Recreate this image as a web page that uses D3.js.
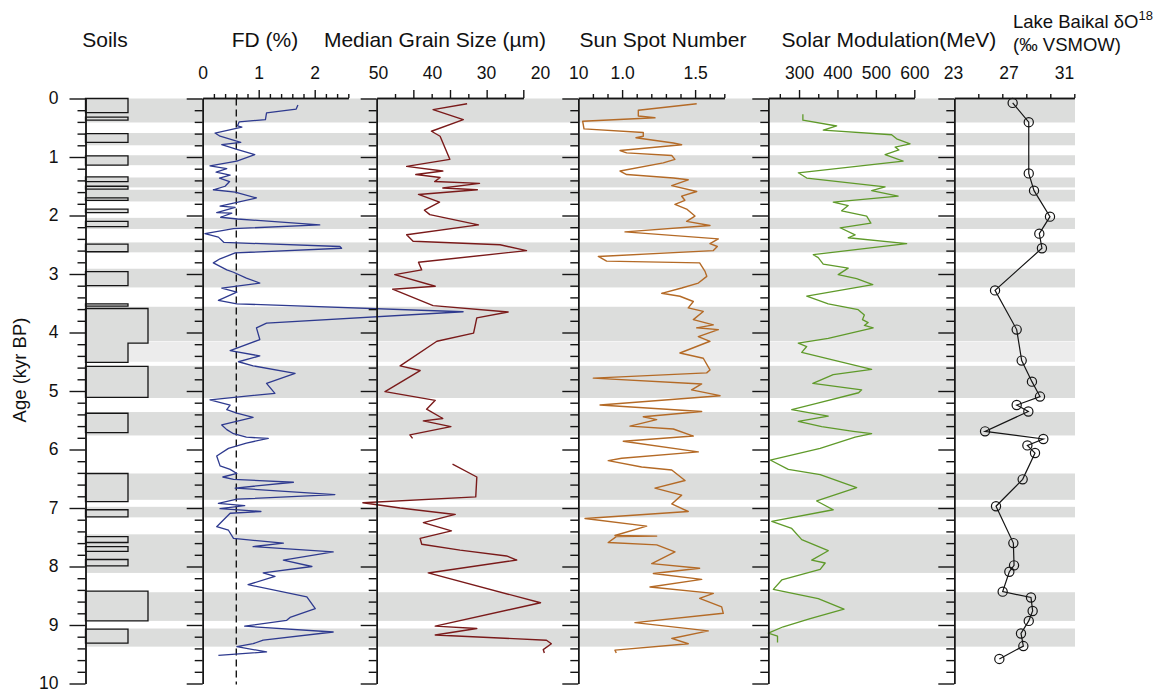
<!DOCTYPE html>
<html>
<head>
<meta charset="utf-8">
<script src="https://cdn.jsdelivr.net/npm/d3@7"></script>
<style>
  body { margin: 0; background: #fff; }
  svg text { font-family: "Liberation Sans", Arial, Helvetica, sans-serif; fill: #111; }
</style>
</head>
<body>
<svg id="chart" width="1155" height="690"></svg>
<script>
// ---------------- data ----------------
// grey marker horizons (kyr BP)
const bandTop  = [0, 0.59, 0.97, 1.35, 1.56, 2.04, 2.46, 2.91, 3.56, 4.57, 5.36, 6.41, 6.98, 7.45, 8.44, 9.06];
const bandBase = [0.41, 0.80, 1.14, 1.52, 1.76, 2.23, 2.63, 3.23, 4.15, 5.12, 5.76, 6.86, 7.16, 8.11, 8.93, 9.37];
const paleBandTop  = [4.16];
const paleBandBase = [4.50];

// palaeosol units
const soilTop  = [0, 0.32, 0.60, 0.98, 1.34, 1.50, 1.70, 1.89, 2.10, 2.49, 2.96, 3.51, 3.59, 4.18, 4.58, 5.38, 6.41, 7.03, 7.49, 7.66, 7.88, 8.42, 9.07];
const soilBase = [0.24, 0.37, 0.75, 1.14, 1.42, 1.55, 1.74, 1.95, 2.19, 2.62, 3.20, 3.55, 4.18, 4.51, 5.11, 5.71, 6.89, 7.15, 7.59, 7.74, 7.99, 8.93, 9.31];
const soilKind = ["thin","thin","thin","thin","thin","thin","thin","thin","thin","thin","thin","thin","thick","thin","thick","thin","thin","thin","thin","thin","thin","thick","thin"];

// frequency-dependent susceptibility
const fdAge = [0.11,0.18,0.245,0.36,0.40,0.47,0.49,0.59,0.645,0.75,0.79,0.87,0.96,1.07,1.15,1.20,1.26,1.31,1.36,1.42,1.50,1.56,1.60,1.70,1.79,1.84,1.86,1.95,1.96,2.03,2.06,2.16,2.225,2.31,2.37,2.46,2.53,2.56,2.64,2.74,2.81,2.93,2.97,3.07,3.155,3.24,3.31,3.45,3.51,3.645,3.84,3.92,4.12,4.31,4.40,4.50,4.57,4.70,4.87,5.04,5.15,5.24,5.32,5.38,5.45,5.58,5.66,5.73,5.79,5.81,5.89,5.98,6.11,6.28,6.34,6.41,6.47,6.51,6.56,6.66,6.77,6.85,6.92,6.96,7.01,7.06,7.09,7.32,7.38,7.52,7.60,7.66,7.75,7.89,8.00,8.11,8.17,8.31,8.52,8.72,8.87,8.92,9.02,9.12,9.26,9.32,9.37,9.46,9.52];
const fdVal = [1.70,1.67,1.14,1.12,0.65,0.62,0.70,0.22,0.31,0.68,0.34,0.61,0.93,0.61,0.13,0.43,0.24,0.49,0.30,0.48,0.40,0.19,0.58,0.96,0.55,0.31,0.58,0.25,0.52,0.32,0.62,2.09,0.55,0.04,0.28,0.38,2.45,2.48,0.58,0.31,0.19,0.43,0.55,0.78,1.02,0.34,0.61,0.28,0.61,4.65,1.14,0.96,1.02,0.49,1.02,0.64,0.90,1.65,1.14,1.29,0.13,0.49,0.43,0.61,0.90,0.34,0.43,0.55,0.78,1.17,0.78,0.46,0.25,0.31,0.49,0.61,0.36,0.55,1.62,0.58,2.36,0.61,0.28,0.75,0.31,1.04,0.49,0.25,0.46,0.55,1.44,0.90,2.33,1.44,1.95,1.08,1.29,0.81,1.86,2.01,1.56,1.50,0.75,2.33,1.08,0.90,0.61,1.14,0.28];
const fdThreshold = 0.6;

// median grain size (null = no sample)
const grainAge = [0.09,0.19,0.36,0.56,0.645,1.04,1.16,1.24,1.30,1.35,1.42,1.45,1.53,1.56,1.64,1.77,1.91,1.985,2.16,2.33,2.44,2.50,2.60,2.80,2.93,3.01,3.21,3.26,3.54,3.65,3.75,4.01,4.15,4.57,4.65,5.01,5.16,5.31,5.47,5.51,5.61,5.75,5.81,6.0,6.25,6.47,6.81,6.91,7.00,7.11,7.25,7.39,7.52,7.62,7.72,7.82,7.89,8.11,8.62,9.02,9.06,9.17,9.26,9.32,9.42,9.48];
const grainVal = [33.5,39.8,34.2,40.1,38.5,36.7,44.7,38.0,43.0,38.5,39.5,31.2,38.0,31.6,42.5,38.6,41.4,40.4,31.4,44.7,43.5,27.4,22.5,42.5,41.9,46.9,39.4,47.3,39.8,25.9,31.7,32.3,39.1,45.9,42.2,48.7,39.4,41.0,38.0,41.6,36.5,44.1,43.6,null,36.2,31.7,31.9,52.8,45.9,35.7,41.6,36.4,42.2,41.9,34.8,26.2,24.3,40.7,19.9,39.4,31.7,39.4,18.8,17.9,19.4,19.2];

// sunspot number
const sunAge = [0.09,0.20,0.30,0.33,0.39,0.52,0.58,0.645,0.67,0.76,0.79,0.89,0.93,0.975,1.04,1.10,1.24,1.30,1.36,1.39,1.49,1.59,1.67,1.74,1.81,1.89,2.01,2.10,2.17,2.28,2.40,2.48,2.53,2.60,2.70,2.78,2.81,2.955,3.04,3.155,3.24,3.33,3.38,3.47,3.58,3.64,3.78,3.87,3.92,3.95,4.07,4.15,4.35,4.44,4.64,4.69,4.78,4.88,4.98,5.08,5.24,5.35,5.44,5.49,5.60,5.65,5.77,5.86,6.04,6.15,6.19,6.30,6.35,6.53,6.66,6.78,6.93,7.06,7.18,7.31,7.47,7.48,7.49,7.59,7.63,7.75,7.95,8.03,8.12,8.22,8.35,8.46,8.545,8.69,8.80,8.96,9.10,9.23,9.32,9.43,9.48];
const sunVal = [1.511,1.111,1.111,1.225,0.730,0.739,1.145,1.145,1.095,1.351,1.408,0.986,1.031,1.340,1.362,1.282,0.986,1.031,1.351,1.453,1.340,1.511,1.408,1.430,1.362,1.442,1.499,1.442,1.602,1.020,1.659,1.602,1.652,1.625,0.837,0.894,1.531,1.568,1.580,1.522,1.408,1.271,1.396,1.488,1.453,1.556,1.488,1.625,1.511,1.659,1.522,1.602,1.396,1.556,1.602,1.579,0.803,1.545,1.476,1.671,0.849,1.545,1.145,1.237,1.054,1.351,1.488,1.008,1.522,0.997,0.905,1.134,1.340,1.431,1.225,1.408,1.340,1.453,0.746,1.168,0.951,1.237,0.960,0.905,1.237,1.362,1.203,1.531,1.214,1.545,1.191,1.625,1.531,1.682,1.693,1.088,1.590,1.340,1.453,0.951,0.960];

// solar modulation (MeV)
const solarAge = [0.27,0.37,0.47,0.54,0.62,0.69,0.775,0.83,0.88,0.96,1.07,1.27,1.36,1.51,1.575,1.67,1.77,1.83,1.92,2.01,2.13,2.21,2.33,2.38,2.48,2.67,2.72,2.83,2.90,3.01,3.08,3.18,3.38,3.51,3.61,3.70,3.78,3.83,3.88,3.92,4.10,4.18,4.24,4.34,4.63,4.72,4.87,4.98,5.03,5.21,5.32,5.43,5.52,5.61,5.69,5.73,5.79,5.98,6.18,6.34,6.43,6.65,6.88,7.03,7.23,7.35,7.54,7.73,7.89,7.94,8.05,8.23,8.39,8.55,8.73,8.89,9.03,9.14,9.19,9.30];
const solarVal = [310,310,398,363,541,554,589,550,560,524,571,298,320,524,489,558,389,428,411,476,487,407,446,428,580,337,350,363,428,402,450,492,320,376,454,470,465,480,470,493,376,298,320,307,489,389,336,463,455,346,281,376,298,359,441,489,446,355,225,272,355,450,346,389,229,281,307,376,333,368,355,255,233,350,417,329,259,220,244,244];

// Lake Baikal diatom oxygen isotopes
const baikalAge = [0.075,0.405,1.28,1.575,2.02,2.31,2.56,3.28,3.95,4.48,4.84,5.095,5.24,5.35,5.69,5.82,5.93,6.06,6.51,6.97,7.60,7.98,8.09,8.43,8.53,8.76,8.93,9.145,9.36,9.58];
const baikalVal = [27.30,28.46,28.46,28.84,29.99,29.22,29.41,26.03,27.59,27.95,28.69,29.27,27.59,28.43,25.31,29.51,28.36,28.91,28.02,26.10,27.35,27.40,27.06,26.58,28.62,28.74,28.46,27.90,28.07,26.34];

// axis tick labels
const ageLabels   = [0,1,2,3,4,5,6,7,8,9,10];
const fdLabels    = [0,1,2];
const grainLabels = [50,40,30,20];
const sunLabelVals = [0.7,1.0,1.5];
const sunLabelText = ["10","1.0","1.5"];
const solarLabels = [300,400,500,600];
const baikalLabels = [23,27,31];

// ---------------- layout ----------------
const svg = d3.select("#chart");
const AXIS_TOP = 98.5, AXIS_BOTTOM = 683.5;
const y = d3.scaleLinear().domain([0,10]).range([AXIS_TOP, AXIS_BOTTOM]);

const INK = "#151515";
const BAND = "#dcdddc";
const PALE = "#ececec";
const TICK_FONT = 17.5;

// panel x-scales (range = drawn axis span)
const soilX0 = 85.5;
const soilW = d3.scaleOrdinal().domain(["thin","thick"]).range([42.5, 62.5]);

const fdX = d3.scaleLinear().domain([0, 2.6]).range([202.7, 348.3]);
const grainRaw = d3.scaleLinear().domain([50, 20]).range([378, 540]);
const grainX = d3.scaleLinear().domain([grainRaw.invert(376.7), grainRaw.invert(523.3)]).range([376.7, 523.3]);
const sunX = d3.scaleLinear().domain([0.7, 1.7]).range([578.3, 724.3]);
const solarX = d3.scaleLinear().domain([220, 600]).range([768.3, 914.3]);
const baikalRaw = d3.scaleLinear().domain([23, 31]).range([953, 1064]);
const baikalX = d3.scaleLinear().domain([baikalRaw.invert(954.3), baikalRaw.invert(1074.3)]).range([954.3, 1074.3]);

// ---------------- background bands ----------------
const BAND_X0 = soilX0, BAND_X1 = 1075;
svg.append("g").selectAll("rect").data(d3.zip(bandTop, bandBase)).join("rect")
  .attr("x", BAND_X0).attr("width", BAND_X1 - BAND_X0)
  .attr("y", d => y(d[0])).attr("height", d => y(d[1]) - y(d[0]))
  .attr("fill", BAND);
svg.append("g").selectAll("rect").data(d3.zip(paleBandTop, paleBandBase)).join("rect")
  .attr("x", BAND_X0).attr("width", BAND_X1 - BAND_X0)
  .attr("y", d => y(d[0])).attr("height", d => y(d[1]) - y(d[0]))
  .attr("fill", PALE);

// ---------------- soil column ----------------
const soils = soilTop.map((t, i) => ({top: t, base: soilBase[i], kind: soilKind[i]}));
// merge touching units into one outlined block
const groups = [];
soils.forEach(s => {
  const g = groups[groups.length - 1];
  if (g && Math.abs(g[g.length - 1].base - s.top) < 1e-6) g.push(s); else groups.push([s]);
});
const soilG = svg.append("g");
groups.forEach(g => {
  const p = d3.path();
  p.moveTo(soilX0, y(g[0].top));
  g.forEach(s => {
    p.lineTo(soilX0 + soilW(s.kind), y(s.top));
    p.lineTo(soilX0 + soilW(s.kind), y(s.base));
  });
  p.lineTo(soilX0, y(g[g.length - 1].base));
  p.closePath();
  soilG.append("path").attr("d", p.toString())
    .attr("fill", BAND).attr("stroke", INK).attr("stroke-width", 1.3);
});

// ---------------- age axes ----------------
const minorAges = d3.range(0, 51).map(i => i / 5).filter(v => Math.abs(v - Math.round(v)) > 1e-6);
function ageAxis(x, withLabels) {
  const g = svg.append("g").attr("transform", `translate(${x - 0.5},0)`);
  g.append("g").call(d3.axisLeft(y).tickValues(minorAges).tickSize(8).tickSizeOuter(0).tickFormat(""));
  const major = g.append("g").call(d3.axisLeft(y).tickValues(ageLabels).tickSize(16).tickSizeOuter(0)
      .tickPadding(11).tickFormat(withLabels ? d3.format("d") : ""));
  g.selectAll("path, line").attr("stroke", INK).attr("stroke-width", 1.4);
  major.selectAll("text").attr("font-size", TICK_FONT).attr("fill", INK).attr("dy", "0.3em")
    .attr("font-family", '"Liberation Sans", Arial, sans-serif');
}

function topAxis(scale, minorVals, majorVals, labelVals, labelText) {
  const g = svg.append("g").attr("transform", `translate(0,${AXIS_TOP - 0.5})`);
  g.append("g").call(d3.axisTop(scale).tickValues(minorVals).tickSize(4).tickSizeOuter(0).tickFormat(""));
  g.append("g").call(d3.axisTop(scale).tickValues(majorVals).tickSize(8).tickSizeOuter(0).tickFormat(""));
  g.selectAll("path, line").attr("stroke", INK).attr("stroke-width", 1.4);
  const lab = g.append("g").call(d3.axisTop(scale).tickValues(labelVals).tickSize(0).tickPadding(19.5)
      .tickFormat((d, i) => labelText ? labelText[i] : d));
  lab.select(".domain").remove();
  lab.selectAll("text").attr("font-size", TICK_FONT).attr("fill", INK)
    .attr("font-family", '"Liberation Sans", Arial, sans-serif');
}

// evenly divided tick sets along an axis span
function splitTicks(scale, n) {
  const [a, b] = scale.domain();
  return d3.range(n + 1).map(k => a + (b - a) * k / n);
}

// ---------------- curves ----------------
const lineFor = (xs) => d3.line().defined(d => d[1] != null).x(d => xs(d[1])).y(d => y(d[0]));

// FD threshold
svg.append("line")
  .attr("x1", fdX(fdThreshold)).attr("x2", fdX(fdThreshold))
  .attr("y1", AXIS_TOP).attr("y2", AXIS_BOTTOM + 1)
  .attr("stroke", INK).attr("stroke-width", 1.4).attr("stroke-dasharray", "7,4");

svg.append("path").datum(d3.zip(fdAge, fdVal)).attr("d", lineFor(fdX))
  .attr("fill", "none").attr("stroke", "#2e3a8f").attr("stroke-width", 1.3).attr("stroke-linejoin", "round");
svg.append("path").datum(d3.zip(grainAge, grainVal)).attr("d", lineFor(grainRaw))
  .attr("fill", "none").attr("stroke", "#7a1a1a").attr("stroke-width", 1.4).attr("stroke-linejoin", "round");
svg.append("path").datum(d3.zip(sunAge, sunVal)).attr("d", lineFor(sunX))
  .attr("fill", "none").attr("stroke", "#b46a26").attr("stroke-width", 1.4).attr("stroke-linejoin", "round");
svg.append("path").datum(d3.zip(solarAge, solarVal)).attr("d", lineFor(solarX))
  .attr("fill", "none").attr("stroke", "#5f9a2a").attr("stroke-width", 1.3).attr("stroke-linejoin", "round");
svg.append("path").datum(d3.zip(baikalAge, baikalVal)).attr("d", lineFor(baikalRaw))
  .attr("fill", "none").attr("stroke", INK).attr("stroke-width", 1.2);
svg.append("g").selectAll("circle").data(d3.zip(baikalAge, baikalVal)).join("circle")
  .attr("cx", d => baikalRaw(d[1])).attr("cy", d => y(d[0])).attr("r", 4.6)
  .attr("fill", "none").attr("stroke", INK).attr("stroke-width", 1.2);

// ---------------- axes ----------------
ageAxis(soilX0 + 0.5, true);
ageAxis(fdX.range()[0] + 0.5, false);
ageAxis(grainX.range()[0] + 0.5, false);
ageAxis(sunX.range()[0] + 0.5, false);
ageAxis(solarX.range()[0] + 0.5, false);
ageAxis(baikalX.range()[0] + 0.5, false);

// FD: 0.2 % steps, majors at whole percent
const fdAll = d3.range(0, 14).map(i => i / 5);
topAxis(fdX, fdAll.filter(v => Math.abs(v - Math.round(v)) > 1e-6), [1, 2], fdLabels);
const gT = splitTicks(grainX, 8);
topAxis(grainX, gT.filter((v, i) => i % 2 === 1), gT.filter((v, i) => i > 0 && i % 2 === 0), grainLabels.map(v => grainX.invert(grainRaw(v))), grainLabels);
const sT = d3.range(7, 18).map(i => i / 10);
topAxis(sunX, sT.filter(v => v !== 1.0 && v !== 1.5 && v !== 0.7), [1.0, 1.5], sunLabelVals, sunLabelText);
topAxis(solarX, [250, 350, 450, 550], [300, 400, 500, 600], solarLabels);
const bT = splitTicks(baikalX, 5);
topAxis(baikalX, bT.slice(1), [], baikalLabels.map(v => baikalX.invert(baikalRaw(v))), baikalLabels);

// ---------------- titles ----------------
const TITLE = 21;
const titles = [
  {t: "Soils", x: 105},
  {t: "FD (%)", x: 265},
  {t: "Median Grain Size (\u00b5m)", x: 435},
  {t: "Sun Spot Number", x: 663},
  {t: "Solar Modulation(MeV)", x: 889}
];
svg.append("g").selectAll("text").data(titles).join("text")
  .attr("x", d => d.x).attr("y", 47).attr("text-anchor", "middle")
  .attr("font-size", TITLE).text(d => d.t);

const bk = svg.append("text").attr("x", 1013).attr("y", 28).attr("font-size", 18.5);
bk.append("tspan").text("Lake Baikal \u03b4O");
bk.append("tspan").attr("dy", -8).attr("font-size", 13).text("18");
svg.append("text").attr("x", 1013).attr("y", 51).attr("font-size", 18.5).text("(\u2030 VSMOW)");

svg.append("text")
  .attr("transform", "translate(26,370) rotate(-90)")
  .attr("text-anchor", "middle").attr("font-size", 18.5).text("Age (kyr BP)");
</script>
</body>
</html>
